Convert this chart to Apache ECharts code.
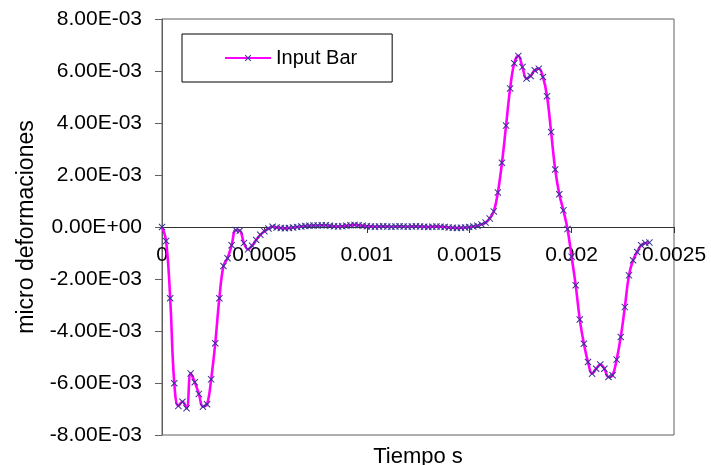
<!DOCTYPE html>
<html>
<head>
<meta charset="utf-8">
<script src="https://cdn.jsdelivr.net/npm/echarts@6/dist/echarts.min.js"></script>
<style>
  html, body { margin: 0; padding: 0; background: #fff; }
  #chart { width: 711px; height: 465px; }
</style>
</head>
<body>
<div id="chart"></div>
<script>
// Sample times in microseconds (20 µs sampling)
const timeUs = [
  0, 20, 40, 60, 80, 100, 120, 140, 160, 180,
  200, 220, 240, 260, 280, 300, 320, 340, 360, 380,
  400, 420, 440, 460, 480, 500, 520, 540, 560, 580,
  600, 620, 640, 660, 680, 700, 720, 740, 760, 780,
  800, 820, 840, 860, 880, 900, 920, 940, 960, 980,
  1000, 1020, 1040, 1060, 1080, 1100, 1120, 1140, 1160, 1180,
  1200, 1220, 1240, 1260, 1280, 1300, 1320, 1340, 1360, 1380,
  1400, 1420, 1440, 1460, 1480, 1500, 1520, 1540, 1560, 1580,
  1600, 1620, 1640, 1660, 1680, 1700, 1720, 1740, 1760, 1780,
  1800, 1820, 1840, 1860, 1880, 1900, 1920, 1940, 1960, 1980,
  2000, 2020, 2040, 2060, 2080, 2100, 2120, 2140, 2160, 2180,
  2200, 2220, 2240, 2260, 2280, 2300, 2320, 2340, 2360, 2380
];

// Input bar strain, in units of 1E-03
const inputBarE3 = [
  0.00, -0.54, -2.74, -6.01, -6.88, -6.72, -6.97, -5.63, -5.97, -6.42,
  -6.91, -6.82, -5.86, -4.47, -2.74, -1.50, -1.20, -0.70, -0.12, -0.14,
  -0.62, -0.86, -0.72, -0.50, -0.30, -0.16, -0.06, 0.01, -0.02, -0.04,
  -0.05, -0.04, -0.02, 0.00, 0.02, 0.04, 0.05, 0.06, 0.06, 0.07,
  0.07, 0.05, 0.03, 0.02, 0.03, 0.05, 0.07, 0.08, 0.07, 0.05,
  0.03, 0.02, 0.01, 0.02, 0.03, 0.02, 0.01, 0.02, 0.03, 0.02,
  0.01, 0.02, 0.03, 0.02, 0.01, 0.00, 0.01, 0.02, 0.01, 0.00,
  -0.02, -0.03, -0.04, -0.03, -0.02, 0.00, 0.02, 0.05, 0.10, 0.17,
  0.33, 0.60, 1.33, 2.47, 3.90, 5.33, 6.30, 6.58, 6.15, 5.71,
  5.81, 6.03, 6.09, 5.77, 5.03, 3.65, 2.21, 1.26, 0.64, -0.08,
  -1.14, -2.24, -3.56, -4.49, -5.19, -5.64, -5.45, -5.29, -5.45, -5.77,
  -5.70, -5.10, -4.23, -3.08, -1.86, -1.28, -0.96, -0.70, -0.62, -0.60
];

const xTickLabels = ['0', '0.0005', '0.001', '0.0015', '0.002', '0.0025'];
const yTickLabels = ['-8.00E-03', '-6.00E-03', '-4.00E-03', '-2.00E-03', '0.00E+00',
                     '2.00E-03', '4.00E-03', '6.00E-03', '8.00E-03'];

const seriesName = 'Input Bar';
const xTitle = 'Tiempo s';
const yTitle = 'micro deformaciones';

const X_STEP = 0.0005, Y_STEP = 0.002, Y_MIN = -0.008;
const FONT = "Arial, 'Liberation Sans', sans-serif";
const CROSS = 'path://M0,1L1,0L5,4L9,0L10,1L6,5L10,9L9,10L5,6L1,10L0,9L4,5Z';

// plot box geometry; the time axis is lifted from the bottom edge up to the zero line
const GRID_TOP = 19, GRID_BOTTOM = 30, CHART_H = 465;
const zeroLineLift = (CHART_H - GRID_BOTTOM - GRID_TOP) / 2;

const points = timeUs.map((t, i) => [t * 1e-6, inputBarE3[i] * 1e-3]);

const chart = echarts.init(document.getElementById('chart'), null, { renderer: 'canvas' });
chart.setOption({
  animation: false,
  backgroundColor: '#ffffff',
  grid: {
    left: 162, top: GRID_TOP, right: 37, bottom: GRID_BOTTOM,
    containLabel: false,
    outerBoundsMode: 'none',
    show: true, borderColor: '#606060', borderWidth: 1, backgroundColor: 'transparent'
  },
  legend: {
    left: 182, top: 34,
    orient: 'horizontal',
    backgroundColor: '#ffffff',
    borderColor: '#000000', borderWidth: 1,
    padding: [14, 35, 14, 42],
    itemWidth: 46, itemHeight: 8,
    textStyle: { fontFamily: FONT, fontSize: 20, color: '#000' },
    data: [seriesName]
  },
  xAxis: {
    type: 'value',
    position: 'bottom',
    offset: -zeroLineLift,
    min: 0, max: 0.0025, interval: X_STEP,
    name: xTitle, nameLocation: 'middle', nameGap: 219,
    nameTextStyle: { fontFamily: FONT, fontSize: 22, color: '#000' },
    axisLine: { show: true, onZero: false, lineStyle: { color: '#333', width: 1 } },
    axisTick: { show: true, length: 6, lineStyle: { color: '#333' } },
    axisLabel: {
      margin: 18, fontFamily: FONT, fontSize: 21, color: '#000',
      formatter: v => xTickLabels[Math.round(v / X_STEP)] ?? ''
    },
    splitLine: { show: false }
  },
  yAxis: {
    type: 'value',
    min: Y_MIN, max: 0.008, interval: Y_STEP,
    name: yTitle, nameLocation: 'middle', nameGap: 124,
    nameTextStyle: { fontFamily: FONT, fontSize: 23, color: '#000' },
    axisLine: { show: true, onZero: false, lineStyle: { color: '#606060', width: 1 } },
    axisTick: { show: true, length: 7, lineStyle: { color: '#606060' } },
    axisLabel: {
      margin: 20, fontFamily: FONT, fontSize: 21, color: '#000',
      formatter: v => yTickLabels[Math.round((v - Y_MIN) / Y_STEP)] ?? ''
    },
    splitLine: { show: false }
  },
  series: [{
    name: seriesName,
    type: 'line',
    data: points,
    smooth: 0.4,
    symbol: CROSS,
    symbolSize: 7,
    showAllSymbol: true,
    lineStyle: { color: '#ff00ff', width: 2.6 },
    itemStyle: { color: '#33338f' },
    emphasis: { disabled: true },
    z: 3
  }]
});
</script>
</body>
</html>
